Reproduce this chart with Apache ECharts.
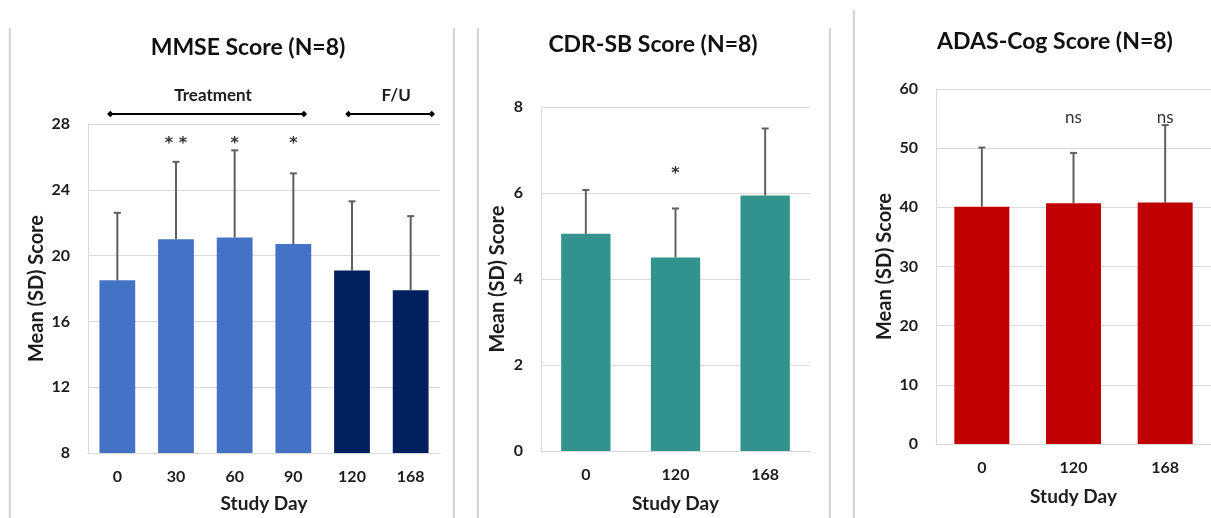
<!DOCTYPE html>
<html>
<head>
<meta charset="utf-8">
<script src="https://cdn.jsdelivr.net/npm/echarts@6/dist/echarts.min.js"></script>
<style>
  html, body { margin: 0; padding: 0; background: #ffffff; }
  #chart { width: 1211px; height: 518px; }
</style>
</head>
<body>
<div id="chart"></div>
<script>
// ---- MMSE panel ----
const mmseDays = ['0', '30', '60', '90', '120', '168'];
const mmseMean = [18.5, 21.0, 21.1, 20.7, 19.1, 17.9];
const mmseSd = [4.1, 4.7, 5.3, 4.3, 4.2, 4.5];
const mmsePhase = ['treat', 'treat', 'treat', 'treat', 'fu', 'fu'];
const mmseSig = ['', '* *', '*', '*', '', ''];
const mmseTicks = [8, 12, 16, 20, 24, 28];
// bracket groups above the MMSE plot: label, first/last category, overhang in band widths
const mmseGroupLabel = ['Treatment', 'F/U'];
const mmseGroupFrom = [0, 4];
const mmseGroupTo = [3, 5];
const mmseGroupPadL = [-0.12, -0.06];
const mmseGroupPadR = [0.18, 0.36];

// ---- CDR-SB panel ----
const cdrDays = ['0', '120', '168'];
const cdrMean = [5.05, 4.5, 5.94];
const cdrSd = [1.02, 1.14, 1.56];
const cdrSig = ['', '*', ''];
const cdrTicks = [0, 2, 4, 6, 8];

// ---- ADAS-Cog panel ----
const adasDays = ['0', '120', '168'];
const adasMean = [40.1, 40.7, 40.8];
const adasSd = [10.0, 8.5, 13.1];
const adasSig = ['', 'ns', 'ns'];
const adasTicks = [0, 10, 20, 30, 40, 50, 60];

const FONT = 'Lato, "Open Sans", sans-serif';
const STAR_FONT = '"DejaVu Sans", sans-serif';
const INK = '#1c1c1c';
const GRID_GRAY = '#d9d9d9';
const ERR_GRAY = '#606060';
const phaseColor = { treat: '#4472C4', fu: '#002060' };

const chart = echarts.init(document.getElementById('chart'), null, { renderer: 'canvas' });

function xAxisFor(gridIndex, cats, nameGap) {
  return {
    type: 'category', gridIndex, data: cats,
    name: 'Study Day', nameLocation: 'middle', nameGap,
    nameTextStyle: { fontFamily: FONT, fontWeight: 'bold', fontSize: 19, color: INK },
    axisLine: { lineStyle: { color: GRID_GRAY, width: 1 } },
    axisTick: { show: false },
    axisLabel: { fontFamily: FONT, fontWeight: 'bold', fontSize: 16, color: INK, margin: 16 }
  };
}
function yAxisFor(gridIndex, ticks, nameGap) {
  return {
    type: 'value', gridIndex,
    min: ticks[0], max: ticks[ticks.length - 1], interval: ticks[1] - ticks[0],
    name: 'Mean (SD) Score', nameLocation: 'middle', nameGap,
    nameTextStyle: { fontFamily: FONT, fontWeight: 'bold', fontSize: 20, color: INK },
    axisLine: { show: true, lineStyle: { color: GRID_GRAY, width: 1 } },
    axisTick: { show: false },
    splitLine: { lineStyle: { color: GRID_GRAY, width: 1 } },
    axisLabel: { fontFamily: FONT, fontWeight: 'bold', fontSize: 16, color: INK, margin: 18 }
  };
}

// error bars: upper whisker only (mean -> mean + SD) with a short cap
function errorSeries(idx, mean, sd) {
  return {
    type: 'custom', xAxisIndex: idx, yAxisIndex: idx, z: 5,
    data: mean.map((m, i) => [i, m, m + sd[i]]),
    renderItem(params, api) {
      const base = api.coord([api.value(0), api.value(1)]);
      const top = api.coord([api.value(0), api.value(2)]);
      const s = { stroke: ERR_GRAY, lineWidth: 2 };
      return {
        type: 'group', children: [
          { type: 'line', shape: { x1: base[0], y1: base[1], x2: top[0], y2: top[1] }, style: s },
          { type: 'line', shape: { x1: top[0] - 3.5, y1: top[1], x2: top[0] + 3.5, y2: top[1] }, style: s }
        ]
      };
    }
  };
}

// significance marks at a fixed value level
function sigSeries(idx, marks, level, font) {
  return {
    type: 'custom', xAxisIndex: idx, yAxisIndex: idx, z: 6,
    data: marks.map((t, i) => [i, level]),
    renderItem(params, api) {
      const p = api.coord([api.value(0), api.value(1)]);
      const text = marks[params.dataIndex];
      if (!text) return null;
      return {
        type: 'text', x: p[0], y: p[1],
        style: { text, fill: '#333333', font, align: 'center', verticalAlign: 'middle' }
      };
    }
  };
}

// phase brackets with diamond ends and a label above
const bracketSeries = {
  type: 'custom', xAxisIndex: 0, yAxisIndex: 0, z: 6,
  data: mmseGroupLabel.map((l, i) => [mmseGroupFrom[i], mmseGroupTo[i], i]),
  renderItem(params, api) {
    const i = params.dataIndex;
    const band = api.size([1, 0])[0];
    const topY = api.coord([0, mmseTicks[mmseTicks.length - 1]])[1];
    const x1 = api.coord([mmseGroupFrom[i], 0])[0] + mmseGroupPadL[i] * band;
    const x2 = api.coord([mmseGroupTo[i], 0])[0] + mmseGroupPadR[i] * band;
    const y = topY - 10;
    const d = 3.2;
    const diamond = (cx) => ({
      type: 'polygon',
      shape: { points: [[cx - d, y], [cx, y - d], [cx + d, y], [cx, y + d]] },
      style: { fill: '#000' }
    });
    return {
      type: 'group', children: [
        { type: 'line', shape: { x1, y1: y, x2, y2: y }, style: { stroke: '#000', lineWidth: 2 } },
        diamond(x1), diamond(x2),
        {
          type: 'text', x: (x1 + x2) / 2 + 6, y: y - 18,
          style: { text: mmseGroupLabel[i], fill: INK, font: `bold 17px ${FONT}`, align: 'center', verticalAlign: 'middle' }
        }
      ]
    };
  }
};

// light panel frames
function frame(x, y0) {
  return {
    type: 'rect', shape: { x: x - 1.5, y: y0, width: 3, height: 518 - y0 },
    style: {
      fill: new echarts.graphic.LinearGradient(0, 0, 1, 0, [
        { offset: 0, color: 'rgba(200,200,200,0.35)' },
        { offset: 0.5, color: 'rgba(190,190,190,0.9)' },
        { offset: 1, color: 'rgba(220,220,220,0.3)' }
      ])
    },
    silent: true, z: -1
  };
}
function titleText(text, x, y) {
  return {
    type: 'text', x, y,
    style: { text, fill: '#111', font: `bold 23px ${FONT}`, align: 'center', verticalAlign: 'middle' }
  };
}

chart.setOption({
  animation: false,
  backgroundColor: '#ffffff',
  grid: [
    { left: 88, top: 124, width: 352, height: 334 },
    { left: 541, top: 107, width: 269, height: 347 },
    { left: 936, top: 89, width: 276, height: 355 }
  ],
  xAxis: [xAxisFor(0, mmseDays, 41), xAxisFor(1, cdrDays, 43), xAxisFor(2, adasDays, 43)],
  yAxis: [yAxisFor(0, mmseTicks, 41), yAxisFor(1, cdrTicks, 33), yAxisFor(2, adasTicks, 41)],
  graphic: [
    frame(10, 28), frame(454, 28), frame(478, 28), frame(830, 28), frame(854, 10),
    titleText('MMSE Score (N=8)', 248, 48),
    titleText('CDR-SB Score (N=8)', 653, 45),
    titleText('ADAS-Cog Score (N=8)', 1055, 42)
  ],
  series: [
    {
      type: 'bar', xAxisIndex: 0, yAxisIndex: 0, barWidth: '61%',
      data: mmseMean.map((v, i) => ({ value: v, itemStyle: { color: phaseColor[mmsePhase[i]] } }))
    },
    errorSeries(0, mmseMean, mmseSd),
    sigSeries(0, mmseSig, 26.8, `bold 16px ${STAR_FONT}`),
    bracketSeries,
    {
      type: 'bar', xAxisIndex: 1, yAxisIndex: 1, barWidth: '55%',
      itemStyle: { color: '#31938C' }, data: cdrMean
    },
    errorSeries(1, cdrMean, cdrSd),
    sigSeries(1, cdrSig, 6.45, `bold 16px ${STAR_FONT}`),
    {
      type: 'bar', xAxisIndex: 2, yAxisIndex: 2, barWidth: '60%',
      itemStyle: { color: '#C00000' }, data: adasMean
    },
    errorSeries(2, adasMean, adasSd),
    sigSeries(2, adasSig, 55.2, `17px ${FONT}`)
  ]
});
</script>
</body>
</html>
